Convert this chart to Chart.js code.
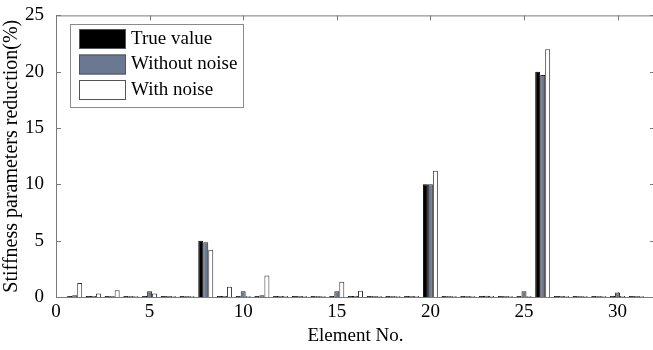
<!DOCTYPE html>
<html>
<head>
<meta charset="utf-8">
<script src="https://cdn.jsdelivr.net/npm/chart.js@4"></script>
<style>
  html, body { margin: 0; background: #fff; overflow: hidden; }
</style>
</head>
<body>
<canvas id="myChart" width="660" height="350"></canvas>
<script>
const ctx = document.getElementById('myChart');

// element numbers 1..31
const elements = [1, 2, 3, 4, 5, 6, 7, 8, 9, 10, 11, 12, 13, 14, 15, 16,
                  17, 18, 19, 20, 21, 22, 23, 24, 25, 26, 27, 28, 29, 30, 31];

// stiffness reduction (%) per element
const trueValue = [0, 0, 0, 0, 0, 0, 0, 5, 0, 0, 0, 0, 0, 0, 0, 0,
                   0, 0, 0, 10, 0, 0, 0, 0, 0, 20, 0, 0, 0, 0, 0];
const withoutNoise = [0.15, 0, 0, 0, 0.5, 0, 0, 4.85, 0, 0.5, 0.15, 0, 0, 0, 0.5, 0,
                      0, 0, 0, 10, 0, 0, 0.1, 0, 0.5, 19.7, 0, 0, 0, 0.4, 0];
const withNoise = [1.25, 0.3, 0.6, 0, 0.3, 0, 0, 4.2, 0.9, 0, 1.9, 0, 0, 0, 1.35, 0.55,
                   0, 0, 0, 11.2, 0, 0, 0, 0, 0, 22.0, 0, 0, 0, 0, 0];

const xTicks = [0, 5, 10, 15, 20, 25, 30];
const yTicks = [0, 5, 10, 15, 20, 25];

const serif = '"Liberation Serif", "Times New Roman", serif';

function points(vals) {
    return elements.map((e, i) => ({ x: e, y: vals[i] }));
}

// box around the axes, inward ticks, and the legend in the upper left
const framePlugin = {
    id: 'frame',
    afterDraw(chart) {
        const c = chart.ctx;
        const a = chart.chartArea;
        const xs = chart.scales.x, ys = chart.scales.y;
        c.save();
        c.strokeStyle = '#7a7a7a';
        c.lineWidth = 1;
        c.strokeRect(a.left + 0.5, a.top + 0.5, a.right - a.left, a.bottom - a.top);
        c.beginPath();
        xTicks.forEach(t => {
            const px = Math.round(xs.getPixelForValue(t)) + 0.5;
            c.moveTo(px, a.bottom); c.lineTo(px, a.bottom - 5);
            c.moveTo(px, a.top); c.lineTo(px, a.top + 5);
        });
        yTicks.forEach(t => {
            const py = Math.round(ys.getPixelForValue(t)) + 0.5;
            c.moveTo(a.left, py); c.lineTo(a.left + 5, py);
            c.moveTo(a.right, py); c.lineTo(a.right - 5, py);
        });
        c.stroke();

        // legend
        const lx = 70, ly = 24, lw = 173, lh = 83;
        c.fillStyle = '#fff';
        c.fillRect(lx, ly, lw, lh);
        c.strokeStyle = '#8a8a8a';
        c.strokeRect(lx + 0.5, ly + 0.5, lw, lh);
        c.font = '19px ' + serif;
        c.textBaseline = 'middle';
        chart.data.datasets.forEach((ds, i) => {
            const sy = 29 + i * 25.5;
            c.fillStyle = ds.backgroundColor;
            c.fillRect(79, sy, 47, 20);
            c.strokeStyle = '#555';
            c.strokeRect(79.5, sy + 0.5, 46, 19);
            c.fillStyle = '#000';
            c.fillText(ds.label, 131, sy + 10);
        });
        c.restore();
    }
};

new Chart(ctx, {
    type: 'bar',
    data: {
        datasets: [{
            label: 'True value',
            data: points(trueValue),
            backgroundColor: '#000000',
            borderColor: '#000000',
            borderWidth: 1
        }, {
            label: 'Without noise',
            data: points(withoutNoise),
            backgroundColor: '#6a7891',
            borderColor: '#2a2a2a',
            borderWidth: 1
        }, {
            label: 'With noise',
            data: points(withNoise),
            backgroundColor: '#ffffff',
            borderColor: '#333333',
            borderWidth: 1
        }]
    },
    options: {
        responsive: false,
        animation: false,
        barPercentage: 1.0,
        categoryPercentage: 0.8,
        minBarLength: 1,
        layout: { padding: { top: 12, right: 5, left: 0, bottom: 3 } },
        plugins: {
            legend: { display: false },
            tooltip: { enabled: false }
        },
        scales: {
            x: {
                type: 'linear',
                min: 0,
                max: 32,
                offset: false,
                grid: { display: false, drawTicks: false, offset: false },
                border: { display: false },
                ticks: {
                    stepSize: 5,
                    includeBounds: false,
                    maxRotation: 0,
                    padding: 4,
                    color: '#000',
                    font: { family: serif, size: 19 }
                },
                title: {
                    display: true,
                    text: 'Element No.',
                    color: '#000',
                    padding: { top: 0, bottom: 0 },
                    font: { family: serif, size: 19 }
                },
                afterFit(scale) { scale.height = 50; }
            },
            y: {
                min: 0,
                max: 25,
                grid: { display: false },
                border: { display: false },
                ticks: {
                    stepSize: 5,
                    padding: 4,
                    color: '#000',
                    font: { family: serif, size: 19 }
                },
                title: {
                    display: true,
                    text: 'Stiffness parameters reduction(%)',
                    color: '#000',
                    padding: { top: 0, bottom: 0 },
                    font: { family: serif, size: 20 }
                },
                afterFit(scale) { scale.width = 56; }
            }
        }
    },
    plugins: [framePlugin]
});
</script>
</body>
</html>
